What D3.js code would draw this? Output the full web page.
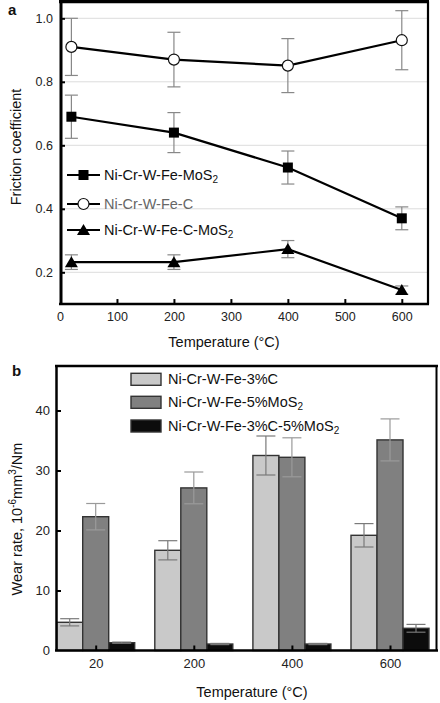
<!DOCTYPE html>
<html><head><meta charset="utf-8">
<script src="https://cdn.jsdelivr.net/npm/d3@7/dist/d3.min.js"></script>
<style>body{margin:0;background:#fff}svg{display:block}text{font-family:"Liberation Sans",Arial,sans-serif}</style>
</head><body>
<svg id="c" width="440" height="703"></svg>
<script>
// ---------- Panel a data ----------
const tempsA = [20, 200, 400, 600];
const mos2 = [0.69, 0.64, 0.53, 0.37];
const mos2Err = [0.068, 0.063, 0.052, 0.036];
const carb = [0.91, 0.87, 0.851, 0.931];
const carbErr = [0.09, 0.086, 0.085, 0.093];
const cmos2 = [0.232, 0.232, 0.273, 0.144];
const cmos2Err = [0.023, 0.023, 0.027, 0.013];
const xTicksA = [0, 100, 200, 300, 400, 500, 600];
const yTicksA = [0.2, 0.4, 0.6, 0.8, 1.0];
const namesA = ["Ni-Cr-W-Fe-MoS", "Ni-Cr-W-Fe-C", "Ni-Cr-W-Fe-C-MoS"];
const subsA = ["2", "", "2"];

// ---------- Panel b data ----------
const catsB = ["20", "200", "400", "600"];
const seriesB = ["c3", "mos5", "both"];
const namesB = ["Ni-Cr-W-Fe-3%C", "Ni-Cr-W-Fe-5%MoS", "Ni-Cr-W-Fe-3%C-5%MoS"];
const subsB = ["", "2", "2"];
const wearC = [4.7, 16.7, 32.5, 19.2];
const wearCErr = [0.6, 1.6, 3.25, 1.95];
const wearM = [22.3, 27.1, 32.2, 35.1];
const wearMErr = [2.2, 2.65, 3.25, 3.5];
const wearB = [1.3, 1.08, 1.08, 3.7];
const wearBErr = [0.1, 0.1, 0.1, 0.65];
const yTicksB = [0, 10, 20, 30, 40];

const svg = d3.select("#c");

// ================= Panel a =================
const xA = d3.scaleLinear().domain([0, 646]).range([60, 428]);
const yA = d3.scaleLinear().domain([0.2, 1.0]).range([272.3, 18.3]);
const yA0 = yA(0.1), yA1 = yA(1.053);
const ga = svg.append("g");

// grid
ga.selectAll(".grid").data(yTicksA).join("line")
  .attr("x1", xA(0)).attr("x2", xA(646)).attr("y1", d => yA(d)).attr("y2", d => yA(d))
  .attr("stroke", "#dcdcdc").attr("stroke-width", 1);

// axes with inward ticks
const axA = ga.append("g").attr("transform", `translate(0,${yA0})`)
  .call(d3.axisBottom(xA).tickValues(xTicksA).tickSize(-5).tickPadding(8).tickFormat(d3.format("d")));
const ayA = ga.append("g").attr("transform", `translate(${xA(0)},0)`)
  .call(d3.axisLeft(yA).tickValues(yTicksA).tickSize(-5).tickPadding(7).tickFormat(d3.format(".1f")));
[axA, ayA].forEach(a => {
  a.select(".domain").remove();
  a.selectAll(".tick line").attr("stroke", "#000").attr("stroke-width", 2);
  a.selectAll(".tick text").attr("font-size", 12.5).attr("fill", "#222")
    .style("font-family", '"Liberation Sans",Arial,sans-serif');
});
axA.selectAll(".tick").filter(d => d === 0).select("line").remove();

// frame
ga.append("line").attr("x1", 59).attr("x2", 429).attr("y1", yA1).attr("y2", yA1).attr("stroke", "#000").attr("stroke-width", 3.5);
ga.append("line").attr("x1", 59).attr("x2", 429).attr("y1", yA0).attr("y2", yA0).attr("stroke", "#000").attr("stroke-width", 2.5);
ga.append("line").attr("x1", 61).attr("x2", 61).attr("y1", yA1).attr("y2", yA0).attr("stroke", "#000").attr("stroke-width", 3);
ga.append("line").attr("x1", 428).attr("x2", 428).attr("y1", yA1).attr("y2", yA0).attr("stroke", "#000").attr("stroke-width", 2.2);

const seriesA = [
  {v: mos2, e: mos2Err, m: "square"},
  {v: carb, e: carbErr, m: "circle"},
  {v: cmos2, e: cmos2Err, m: "triangle"}
];
const line = d3.line().x(d => xA(d[0])).y(d => yA(d[1]));
function marker(g, type, x, y) {
  if (type === "square") g.append("rect").attr("x", x - 5).attr("y", y - 5).attr("width", 10).attr("height", 10).attr("fill", "#000");
  else if (type === "circle") g.append("circle").attr("cx", x).attr("cy", y).attr("r", 5.5).attr("fill", "#fff").attr("stroke", "#111").attr("stroke-width", 1.2);
  else g.append("path").attr("d", `M${x},${y - 6}L${x + 6.5},${y + 5}L${x - 6.5},${y + 5}Z`).attr("fill", "#000");
}
seriesA.forEach(s => {
  const pts = tempsA.map((t, i) => [t, s.v[i], s.e[i]]);
  // error bars
  const eg = ga.append("g").attr("stroke", "#888").attr("stroke-width", 1.2);
  pts.forEach(p => {
    const x = xA(p[0]);
    eg.append("line").attr("x1", x).attr("x2", x).attr("y1", yA(p[1] + p[2])).attr("y2", yA(p[1] - p[2]));
    eg.append("line").attr("x1", x - 6.5).attr("x2", x + 6.5).attr("y1", yA(p[1] + p[2])).attr("y2", yA(p[1] + p[2]));
    eg.append("line").attr("x1", x - 6.5).attr("x2", x + 6.5).attr("y1", yA(p[1] - p[2])).attr("y2", yA(p[1] - p[2]));
  });
  ga.append("path").datum(pts).attr("d", line).attr("fill", "none").attr("stroke", "#000").attr("stroke-width", 2.2);
  pts.forEach(p => marker(ga, s.m, xA(p[0]), yA(p[1])));
});

// legend a
const legYA = [175, 204, 230];
const legColA = ["#111", "#666", "#111"];
seriesA.forEach((s, i) => {
  const y = legYA[i];
  ga.append("line").attr("x1", 67).attr("x2", 100).attr("y1", y).attr("y2", y).attr("stroke", "#000").attr("stroke-width", 2.2);
  marker(ga, s.m, 83.5, y);
  const t = ga.append("text").attr("x", 104).attr("y", y + 5).attr("font-size", 14.5).attr("fill", legColA[i]).text(namesA[i]);
  if (subsA[i]) t.append("tspan").attr("font-size", 10).attr("dy", 3).text(subsA[i]);
});

ga.append("text").attr("x", 8).attr("y", 15).attr("font-size", 15).attr("font-weight", "bold").attr("fill", "#111").text("a");
ga.append("text").attr("transform", "translate(21,147) rotate(-90)").attr("text-anchor", "middle")
  .attr("font-size", 14.5).attr("fill", "#111").text("Friction coefficient");
ga.append("text").attr("x", 224).attr("y", 347).attr("text-anchor", "middle")
  .attr("font-size", 14.5).attr("fill", "#111").text("Temperature (°C)");

// ================= Panel b =================
const xB = d3.scalePoint().domain(catsB).range([95.7, 390]);
const sub = d3.scaleBand().domain(seriesB).range([-39, 39]).padding(0);
const yB = d3.scaleLinear().domain([0, 40]).range([650.5, 410.5]);
const yB0 = yB(0), yB1 = yB(47.4);
const gb = svg.append("g");
const fills = {c3: "#c9c9c9", mos5: "#808080", both: "#0c0c0c"};
const vals = {c3: wearC, mos5: wearM, both: wearB};
const errs = {c3: wearCErr, mos5: wearMErr, both: wearBErr};
const errCol = {c3: "#7a7a7a", mos5: "#9a9a9a", both: "#777"};

const barData = [];
catsB.forEach((c, i) => seriesB.forEach(s => barData.push({c, s, v: vals[s][i], e: errs[s][i]})));

gb.selectAll(".bar").data(barData).join("rect")
  .attr("x", d => xB(d.c) + sub(d.s)).attr("width", sub.bandwidth())
  .attr("y", d => yB(d.v)).attr("height", d => yB(0) - yB(d.v))
  .attr("fill", d => fills[d.s]).attr("stroke", "#333").attr("stroke-width", 1.4);

// error bars b
const ebg = gb.append("g").attr("stroke-width", 1.2);
barData.forEach(d => {
  const x = xB(d.c) + sub(d.s) + sub.bandwidth() / 2;
  const col = errCol[d.s];
  ebg.append("line").attr("x1", x).attr("x2", x).attr("y1", yB(d.v + d.e)).attr("y2", yB(d.v - d.e)).attr("stroke", col);
  ebg.append("line").attr("x1", x - 9.5).attr("x2", x + 9.5).attr("y1", yB(d.v + d.e)).attr("y2", yB(d.v + d.e)).attr("stroke", col);
  ebg.append("line").attr("x1", x - 9.5).attr("x2", x + 9.5).attr("y1", yB(d.v - d.e)).attr("y2", yB(d.v - d.e)).attr("stroke", col);
});

const axB = gb.append("g").attr("transform", `translate(0,${yB0})`)
  .call(d3.axisBottom(xB).tickSize(-5).tickPadding(8));
const ayB = gb.append("g").attr("transform", `translate(56,0)`)
  .call(d3.axisLeft(yB).tickValues(yTicksB).tickSize(-5).tickPadding(6));
[axB, ayB].forEach(a => {
  a.select(".domain").remove();
  a.selectAll(".tick line").attr("stroke", "#000").attr("stroke-width", 2);
  a.selectAll(".tick text").attr("font-size", 13).attr("fill", "#222")
    .style("font-family", '"Liberation Sans",Arial,sans-serif');
});
ayB.selectAll(".tick").filter(d => d === 0).select("line").remove();

// frame b
gb.append("line").attr("x1", 55).attr("x2", 438).attr("y1", yB1).attr("y2", yB1).attr("stroke", "#000").attr("stroke-width", 2.5);
gb.append("line").attr("x1", 55).attr("x2", 438).attr("y1", yB0).attr("y2", yB0).attr("stroke", "#000").attr("stroke-width", 2.5);
gb.append("line").attr("x1", 56.5).attr("x2", 56.5).attr("y1", yB1).attr("y2", yB0).attr("stroke", "#000").attr("stroke-width", 2.5);
gb.append("line").attr("x1", 436.5).attr("x2", 436.5).attr("y1", yB1).attr("y2", yB0).attr("stroke", "#000").attr("stroke-width", 2);

// legend b
const legYB = [379.3, 402.3, 426];
seriesB.forEach((s, i) => {
  const y = legYB[i];
  gb.append("rect").attr("x", 131).attr("y", y - 6).attr("width", 30).attr("height", 12)
    .attr("fill", fills[s]).attr("stroke", "#333").attr("stroke-width", 1.4);
  const t = gb.append("text").attr("x", 168).attr("y", y + 5).attr("font-size", 14.5).attr("fill", "#111").text(namesB[i]);
  if (subsB[i]) t.append("tspan").attr("font-size", 10).attr("dy", 3).text(subsB[i]);
});

gb.append("text").attr("x", 12).attr("y", 376).attr("font-size", 15).attr("font-weight", "bold").attr("fill", "#111").text("b");
const yl = gb.append("text").attr("transform", "translate(22,519) rotate(-90)").attr("text-anchor", "middle")
  .attr("font-size", 14.5).attr("fill", "#111");
yl.append("tspan").text("Wear rate, 10");
yl.append("tspan").attr("font-size", 10).attr("dy", -6).text("-6");
yl.append("tspan").attr("dy", 6).text("mm");
yl.append("tspan").attr("font-size", 10).attr("dy", -6).text("3");
yl.append("tspan").attr("dy", 6).text("/Nm");
gb.append("text").attr("x", 252).attr("y", 697).attr("text-anchor", "middle")
  .attr("font-size", 14.5).attr("fill", "#111").text("Temperature (°C)");
</script>
</body></html>
